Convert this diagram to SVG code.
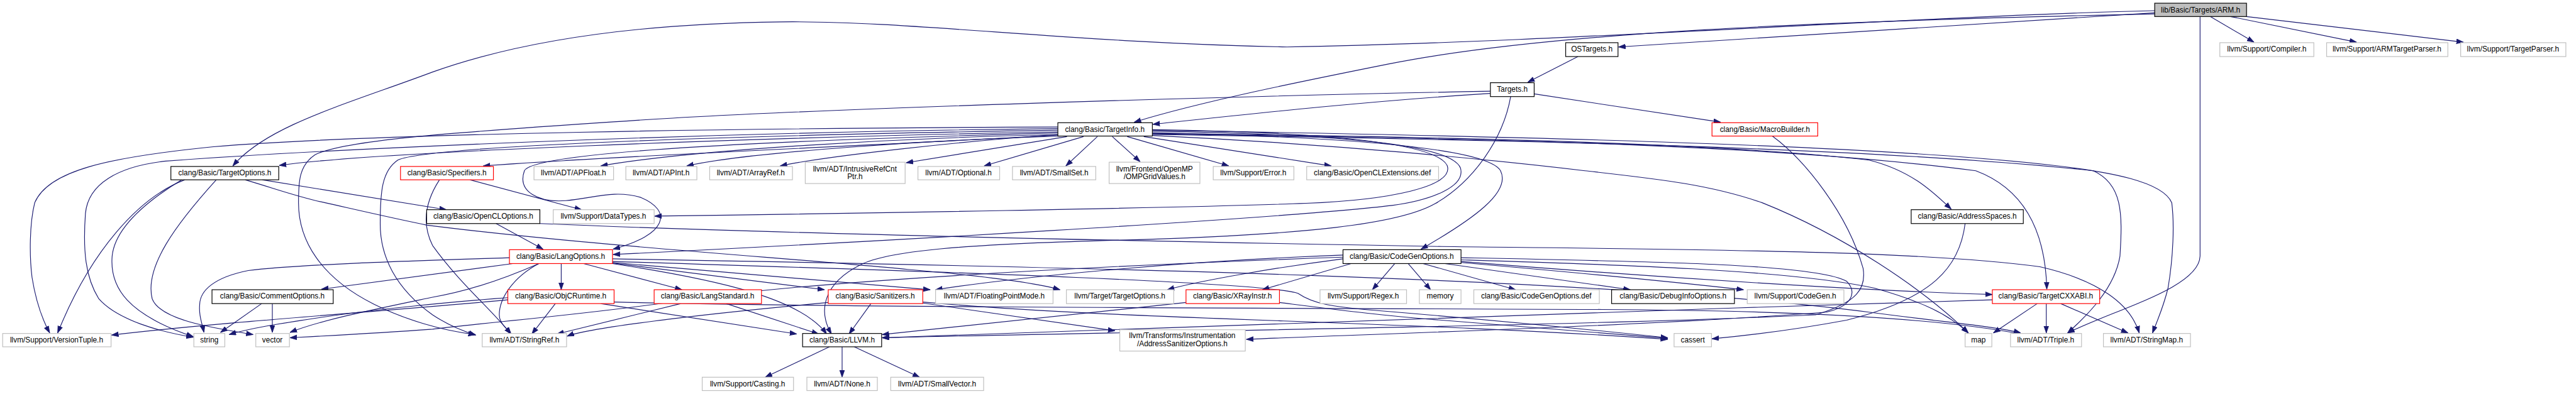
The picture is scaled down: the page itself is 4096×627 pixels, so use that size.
<svg xmlns="http://www.w3.org/2000/svg" width="4096" height="627" viewBox="0 0 4096 627">
<defs>
<style>
.nd rect{fill:#fff;stroke-width:1.4}
.b rect{stroke:#000}
.g rect{stroke:#bfbfbf}
.r rect{stroke:#ff0000}
.root rect{fill:#bfbfbf;stroke:#000}
text{font-family:"Liberation Sans",Arial,sans-serif;font-size:14px;text-anchor:middle;fill:#000}
#edges path{fill:none;stroke:#191970;stroke-width:1.35;marker-end:url(#ah)}
</style>
<marker id="ah" markerWidth="14" markerHeight="11" refX="13" refY="5" orient="auto" markerUnits="userSpaceOnUse"><path d="M0,0.5 L13,5 L0,9.5 z" fill="#191970" stroke="#191970" stroke-width="1"/></marker>
</defs>
<rect width="4096" height="627" fill="#fff"/>
<g transform="scale(0.84909)">
<g id="edges">
<path d="M4035,24 L3031,88"/>
<path d="M4035,26 C3400,40 2900,60 2600,120 C2450,150 2250,190 2124,229"/>
<path d="M4035,20 C3600,30 2900,80 2410,88 C2000,80 1700,38 1461,41 C1150,45 950,85 810,135 C650,195 500,235 436,311"/>
<path d="M4120,31 L4120,480 C4118,540 3960,580 3872,624"/>
<path d="M4139,31 L4221,79"/>
<path d="M4177,31 L4413,79"/>
<path d="M4207,31 L4613,79"/>
<path d="M2955,106 L2861,154"/>
<path d="M2791,175 C2550,190 2300,218 2159,233"/>
<path d="M2873,176 L3222,229"/>
<path d="M2791,171 C2300,180 1500,205 1200,225 C900,245 650,260 590,290 C560,310 559,340 559,380 C559,450 600,520 700,570 C760,600 830,620 890,627"/>
<path d="M2829,181 C2815,260 2760,340 2687,382 C2620,420 2450,440 2100,450 C1800,458 1660,470 1610,497 C1545,530 1530,580 1557,626"/>
<path d="M1981,247 C1400,258 700,285 523,310"/>
<path d="M1983,253 C1700,270 1150,292 905,311"/>
<path d="M1985,252 C1700,258 1300,280 1125,311"/>
<path d="M1990,255 C1750,262 1400,285 1286,311"/>
<path d="M1981,252 C1800,265 1550,292 1461,311"/>
<path d="M1998,256 L1697,305"/>
<path d="M2029,256 L1843,311"/>
<path d="M2055,256 L1996,311"/>
<path d="M2083,256 L2135,303"/>
<path d="M2111,256 L2301,311"/>
<path d="M2142,256 L2493,311"/>
<path d="M1981,238 C1400,240 700,250 400,275 C200,295 90,320 65,380 C55,420 55,480 60,520 C68,570 80,600 93,624"/>
<path d="M1981,241 C1300,248 600,280 310,302 C220,312 165,345 160,400 C155,470 160,520 185,560 C220,600 300,622 362,632"/>
<path d="M1981,244 C1300,255 800,275 745,300 C715,320 712,360 712,420 C712,480 740,540 810,590 C840,610 865,620 891,628"/>
<path d="M1981,249 C1500,262 1000,282 982,320 C968,360 1010,380 1060,376 C1110,372 1150,355 1200,370 C1260,395 1250,440 1148,467"/>
<path d="M2158,243 C2500,248 2690,270 2710,310 C2725,350 2600,375 2446,381 C2200,390 1600,400 1226,405"/>
<path d="M2158,246 C2550,252 2720,275 2735,315 C2745,350 2680,375 2607,385 C2400,410 1600,455 1148,477"/>
<path d="M2158,249 C2600,258 2790,285 2810,320 C2830,360 2760,410 2661,467"/>
<path d="M2158,250 C2600,255 3200,265 3500,300 C3580,320 3620,360 3654,392"/>
<path d="M2158,251 C2700,258 3300,268 3700,320 C3780,350 3830,420 3833,542"/>
<path d="M2158,252 C2800,262 3500,275 3920,320 C3975,345 3975,400 3970,480 C3960,540 3910,590 3872,624"/>
<path d="M2158,244 C2800,255 3500,270 3846,310 C3950,322 4050,340 4067,380 C4072,420 4070,480 4060,540 C4050,580 4040,600 4031,624"/>
<path d="M2158,254 C2500,270 2800,300 2968,320 C3100,335 3200,345 3300,380 C3450,440 3600,540 3686,624"/>
<path d="M346,337 C260,370 170,470 108,624"/>
<path d="M340,337 C270,380 215,430 210,480 C205,540 240,590 362,631"/>
<path d="M405,337 C330,420 270,500 285,560 C300,600 400,615 474,627"/>
<path d="M491,337 L836,393"/>
<path d="M459,337 C520,355 560,370 609,380 C680,396 740,410 800,422 C1100,460 1500,485 1700,505 C1850,518 1940,530 1985,543"/>
<path d="M929,419 L1017,467"/>
<path d="M1011,419 C1500,440 2300,455 2700,462 C3200,468 3600,470 3820,500 C3930,525 3990,570 4006,624"/>
<path d="M880,337 L1089,393"/>
<path d="M823,337 C795,380 790,420 810,460 C860,530 920,580 957,626"/>
<path d="M960,494 L602,542"/>
<path d="M954,483 C800,488 560,495 465,507 C400,520 375,545 374,570 C372,590 378,605 382,623"/>
<path d="M1009,494 C950,520 880,545 810,557 C700,580 600,600 543,623"/>
<path d="M1051,494 L1051,543"/>
<path d="M1093,494 L1277,543"/>
<path d="M1147,493 L1544,543"/>
<path d="M1147,494 C1350,525 1500,560 1548,626"/>
<path d="M1009,494 C960,520 935,560 935,590 C935,605 948,615 957,626"/>
<path d="M1147,492 C1400,515 1600,530 1742,543"/>
<path d="M1147,485 C2000,500 3000,520 3500,585 C3650,605 3740,612 3784,624"/>
<path d="M1147,490 C1800,510 2380,530 2431,550 C2460,570 2500,575 2555,580 C2800,600 3000,620 3123,633"/>
<path d="M951,558 C850,565 700,580 600,595 C520,607 470,615 429,627"/>
<path d="M1125,569 L1492,626"/>
<path d="M1040,569 L996,626"/>
<path d="M951,562 C700,585 400,605 209,628"/>
<path d="M1150,566 C1500,576 2500,578 3000,580 C3400,582 3650,600 3784,626"/>
<path d="M1360,569 L1533,626"/>
<path d="M1275,569 L1043,626"/>
<path d="M1631,569 L1590,626"/>
<path d="M1551,567 C1300,590 1100,615 1062,630"/>
<path d="M1728,568 L2088,620"/>
<path d="M1728,566 C2100,600 2600,600 3123,636"/>
<path d="M2221,567 L1652,627"/>
<path d="M2396,567 C2500,580 2600,593 2700,600 C2900,615 3050,628 3123,634"/>
<path d="M490,569 L413,623"/>
<path d="M510,569 L510,623"/>
<path d="M1553,650 L1433,707"/>
<path d="M1577,650 L1577,707"/>
<path d="M1600,650 L1722,707"/>
<path d="M3319,255 C3380,300 3460,400 3489,503 C3495,540 3479,567 3400,590 C3000,610 2200,620 1652,633"/>
<path d="M3680,419 C3670,500 3620,560 3458,600 C3350,620 3260,630 3206,635"/>
<path d="M2612,494 L2570,543"/>
<path d="M2637,494 L2679,543"/>
<path d="M2665,494 L2838,543"/>
<path d="M2706,494 L3053,543"/>
<path d="M2736,492 C3000,515 3150,530 3265,543"/>
<path d="M2736,487 C3000,495 3350,505 3510,540 C3600,565 3650,590 3686,624"/>
<path d="M2736,490 C3100,520 3500,545 3731,552"/>
<path d="M2736,483 C3100,490 3400,495 3458,527 C3480,550 3465,575 3420,585 C3100,610 2600,625 2334,636"/>
<path d="M2530,494 L2364,543"/>
<path d="M2515,485 C2400,500 2250,525 2186,543"/>
<path d="M2515,478 C2200,490 1900,520 1752,543"/>
<path d="M2515,482 C2000,500 1500,530 1300,560 C1100,590 900,605 810,617 C700,625 600,630 543,633"/>
<path d="M3815,569 L3733,624"/>
<path d="M3832,569 L3832,624"/>
<path d="M3859,569 L3985,624"/>
<path d="M3731,562 C3000,585 2200,610 1652,633"/>
</g>
<g id="n_arm" class="nd root"><rect x="4035" y="6" width="172" height="25"/><text x="4121" y="23">lib/Basic/Targets/ARM.h</text></g>
<g id="n_ostargets" class="nd b"><rect x="2932" y="80" width="98" height="26"/><text x="2981" y="97">OSTargets.h</text></g>
<g id="n_compiler" class="nd g"><rect x="4157" y="80" width="176" height="26"/><text x="4245" y="97">llvm/Support/Compiler.h</text></g>
<g id="n_armtp" class="nd g"><rect x="4357" y="80" width="227" height="26"/><text x="4470" y="97">llvm/Support/ARMTargetParser.h</text></g>
<g id="n_tp" class="nd g"><rect x="4608" y="80" width="197" height="26"/><text x="4706" y="97">llvm/Support/TargetParser.h</text></g>
<g id="n_targets" class="nd b"><rect x="2791" y="155" width="82" height="26"/><text x="2832" y="172">Targets.h</text></g>
<g id="n_targetinfo" class="nd b"><rect x="1981" y="230" width="177" height="25"/><text x="2069" y="247">clang/Basic/TargetInfo.h</text></g>
<g id="n_macrobuilder" class="nd r"><rect x="3206" y="230" width="198" height="25"/><text x="3305" y="247">clang/Basic/MacroBuilder.h</text></g>
<g id="n_targetoptions" class="nd b"><rect x="320" y="312" width="202" height="25"/><text x="421" y="329">clang/Basic/TargetOptions.h</text></g>
<g id="n_specifiers" class="nd r"><rect x="750" y="312" width="174" height="25"/><text x="837" y="329">clang/Basic/Specifiers.h</text></g>
<g id="n_apfloat" class="nd g"><rect x="1000" y="312" width="149" height="25"/><text x="1074" y="329">llvm/ADT/APFloat.h</text></g>
<g id="n_apint" class="nd g"><rect x="1172" y="312" width="133" height="25"/><text x="1238" y="329">llvm/ADT/APInt.h</text></g>
<g id="n_arrayref" class="nd g"><rect x="1329" y="312" width="155" height="25"/><text x="1406" y="329">llvm/ADT/ArrayRef.h</text></g>
<g id="n_irc" class="nd g"><rect x="1508" y="304" width="187" height="40"/><text x="1601" y="321">llvm/ADT/IntrusiveRefCnt</text><text x="1601" y="336">Ptr.h</text></g>
<g id="n_optional" class="nd g"><rect x="1719" y="312" width="153" height="25"/><text x="1795" y="329">llvm/ADT/Optional.h</text></g>
<g id="n_smallset" class="nd g"><rect x="1896" y="312" width="156" height="25"/><text x="1974" y="329">llvm/ADT/SmallSet.h</text></g>
<g id="n_omp" class="nd g"><rect x="2077" y="304" width="170" height="40"/><text x="2162" y="321">llvm/Frontend/OpenMP</text><text x="2162" y="336">/OMPGridValues.h</text></g>
<g id="n_error" class="nd g"><rect x="2272" y="312" width="151" height="25"/><text x="2347" y="329">llvm/Support/Error.h</text></g>
<g id="n_oclext" class="nd g"><rect x="2447" y="312" width="247" height="25"/><text x="2570" y="329">clang/Basic/OpenCLExtensions.def</text></g>
<g id="n_opencloptions" class="nd b"><rect x="799" y="393" width="212" height="26"/><text x="905" y="410">clang/Basic/OpenCLOptions.h</text></g>
<g id="n_datatypes" class="nd g"><rect x="1036" y="393" width="189" height="26"/><text x="1130" y="410">llvm/Support/DataTypes.h</text></g>
<g id="n_addrspaces" class="nd b"><rect x="3579" y="393" width="210" height="26"/><text x="3684" y="410">clang/Basic/AddressSpaces.h</text></g>
<g id="n_langoptions" class="nd r"><rect x="954" y="468" width="193" height="26"/><text x="1050" y="485">clang/Basic/LangOptions.h</text></g>
<g id="n_codegenoptions" class="nd b"><rect x="2515" y="468" width="221" height="26"/><text x="2625" y="485">clang/Basic/CodeGenOptions.h</text></g>
<g id="n_commentoptions" class="nd b"><rect x="397" y="543" width="227" height="26"/><text x="510" y="560">clang/Basic/CommentOptions.h</text></g>
<g id="n_objcruntime" class="nd r"><rect x="951" y="543" width="199" height="26"/><text x="1050" y="560">clang/Basic/ObjCRuntime.h</text></g>
<g id="n_langstandard" class="nd r"><rect x="1225" y="543" width="201" height="26"/><text x="1325" y="560">clang/Basic/LangStandard.h</text></g>
<g id="n_sanitizers" class="nd r"><rect x="1551" y="543" width="177" height="26"/><text x="1639" y="560">clang/Basic/Sanitizers.h</text></g>
<g id="n_fpmode" class="nd g"><rect x="1752" y="543" width="220" height="26"/><text x="1862" y="560">llvm/ADT/FloatingPointMode.h</text></g>
<g id="n_llvmtargetoptions" class="nd g"><rect x="1997" y="543" width="201" height="26"/><text x="2097" y="560">llvm/Target/TargetOptions.h</text></g>
<g id="n_xray" class="nd r"><rect x="2221" y="543" width="175" height="26"/><text x="2308" y="560">clang/Basic/XRayInstr.h</text></g>
<g id="n_regex" class="nd g"><rect x="2472" y="543" width="162" height="26"/><text x="2553" y="560">llvm/Support/Regex.h</text></g>
<g id="n_memory" class="nd g"><rect x="2658" y="543" width="78" height="26"/><text x="2697" y="560">memory</text></g>
<g id="n_cgdef" class="nd g"><rect x="2760" y="543" width="235" height="26"/><text x="2877" y="560">clang/Basic/CodeGenOptions.def</text></g>
<g id="n_debuginfo" class="nd b"><rect x="3018" y="543" width="230" height="26"/><text x="3133" y="560">clang/Basic/DebugInfoOptions.h</text></g>
<g id="n_codegen" class="nd g"><rect x="3272" y="543" width="181" height="26"/><text x="3362" y="560">llvm/Support/CodeGen.h</text></g>
<g id="n_cxxabi" class="nd r"><rect x="3731" y="543" width="201" height="26"/><text x="3831" y="560">clang/Basic/TargetCXXABI.h</text></g>
<g id="n_versiontuple" class="nd g"><rect x="5" y="625" width="203" height="25"/><text x="106" y="642">llvm/Support/VersionTuple.h</text></g>
<g id="n_string" class="nd g"><rect x="363" y="625" width="58" height="25"/><text x="392" y="642">string</text></g>
<g id="n_vector" class="nd g"><rect x="479" y="625" width="63" height="25"/><text x="510" y="642">vector</text></g>
<g id="n_stringref" class="nd g"><rect x="903" y="625" width="158" height="25"/><text x="982" y="642">llvm/ADT/StringRef.h</text></g>
<g id="n_llvm" class="nd b"><rect x="1503" y="625" width="148" height="25"/><text x="1577" y="642">clang/Basic/LLVM.h</text></g>
<g id="n_asan" class="nd g"><rect x="2097" y="618" width="235" height="40"/><text x="2214" y="634">llvm/Transforms/Instrumentation</text><text x="2214" y="649">/AddressSanitizerOptions.h</text></g>
<g id="n_cassert" class="nd g"><rect x="3135" y="625" width="70" height="25"/><text x="3170" y="642">cassert</text></g>
<g id="n_map" class="nd g"><rect x="3680" y="625" width="50" height="25"/><text x="3705" y="642">map</text></g>
<g id="n_triple" class="nd g"><rect x="3765" y="625" width="133" height="25"/><text x="3831" y="642">llvm/ADT/Triple.h</text></g>
<g id="n_stringmap" class="nd g"><rect x="3939" y="625" width="163" height="25"/><text x="4020" y="642">llvm/ADT/StringMap.h</text></g>
<g id="n_casting" class="nd g"><rect x="1315" y="707" width="171" height="25"/><text x="1400" y="724">llvm/Support/Casting.h</text></g>
<g id="n_none" class="nd g"><rect x="1511" y="707" width="132" height="25"/><text x="1577" y="724">llvm/ADT/None.h</text></g>
<g id="n_smallvector" class="nd g"><rect x="1668" y="707" width="174" height="25"/><text x="1755" y="724">llvm/ADT/SmallVector.h</text></g>
</g>
</svg>
